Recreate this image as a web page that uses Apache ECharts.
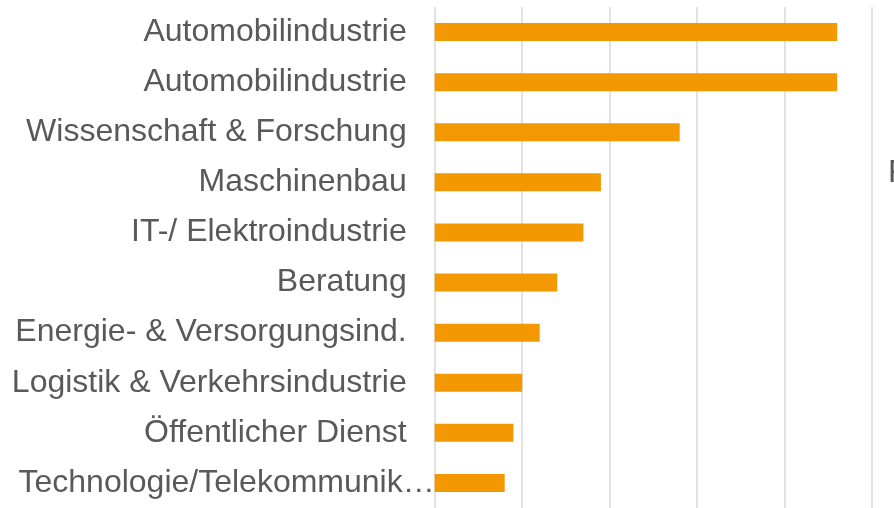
<!DOCTYPE html>
<html>
<head>
<meta charset="utf-8">
<script src="https://cdn.jsdelivr.net/npm/echarts@6/dist/echarts.min.js"></script>
<style>html,body{margin:0;padding:0;background:#fff;}#c{width:894px;height:508px;}</style>
</head>
<body>
<div id="c"></div>
<script>
const categories = [
  'Automobilindustrie',
  'Automobilindustrie',
  'Wissenschaft & Forschung',
  'Maschinenbau',
  'IT-/ Elektroindustrie',
  'Beratung',
  'Energie- & Versorgungsind.',
  'Logistik & Verkehrsindustrie',
  'Öffentlicher Dienst',
  'Technologie/Telekommunikation'
];
const values = [46, 46, 28, 19, 17, 14, 12, 10, 9, 8];
const axisMax = 50;
const axisInterval = 10;
const sideText = 'F';

const chart = echarts.init(document.getElementById('c'), null, {renderer: 'canvas'});
const FONT = '"Liberation Sans", Arial, sans-serif';
chart.setOption({
  animation: false,
  backgroundColor: '#ffffff',
  grid: { left: 434.7, width: 437.5, top: 7, height: 502, containLabel: false },
  xAxis: {
    type: 'value', min: 0, max: axisMax, interval: axisInterval,
    axisLabel: { show: false }, axisLine: { show: false }, axisTick: { show: false },
    splitLine: { show: true, lineStyle: { color: '#d9d9d9', width: 1.5 } }
  },
  yAxis: {
    type: 'category', inverse: true,
    data: categories.map((c, i) => i === categories.length - 1
      ? { value: c, textStyle: { padding: [5, -28, 0, 0] } }
      : c),
    axisLine: { show: false }, axisTick: { show: false },
    axisLabel: {
      margin: 28, fontSize: 32, color: '#595959', fontFamily: FONT,
      padding: [5, 0, 0, 0],
      width: 425, overflow: 'truncate', ellipsis: '…'
    }
  },
  series: [{
    type: 'bar', data: values, barWidth: '36%',
    itemStyle: { color: '#F39800' }
  }],
  graphic: [{
    type: 'text', left: 888, top: 157,
    style: { text: sideText, fontSize: 32, fill: '#595959', fontFamily: FONT }
  }]
});
</script>
</body>
</html>
